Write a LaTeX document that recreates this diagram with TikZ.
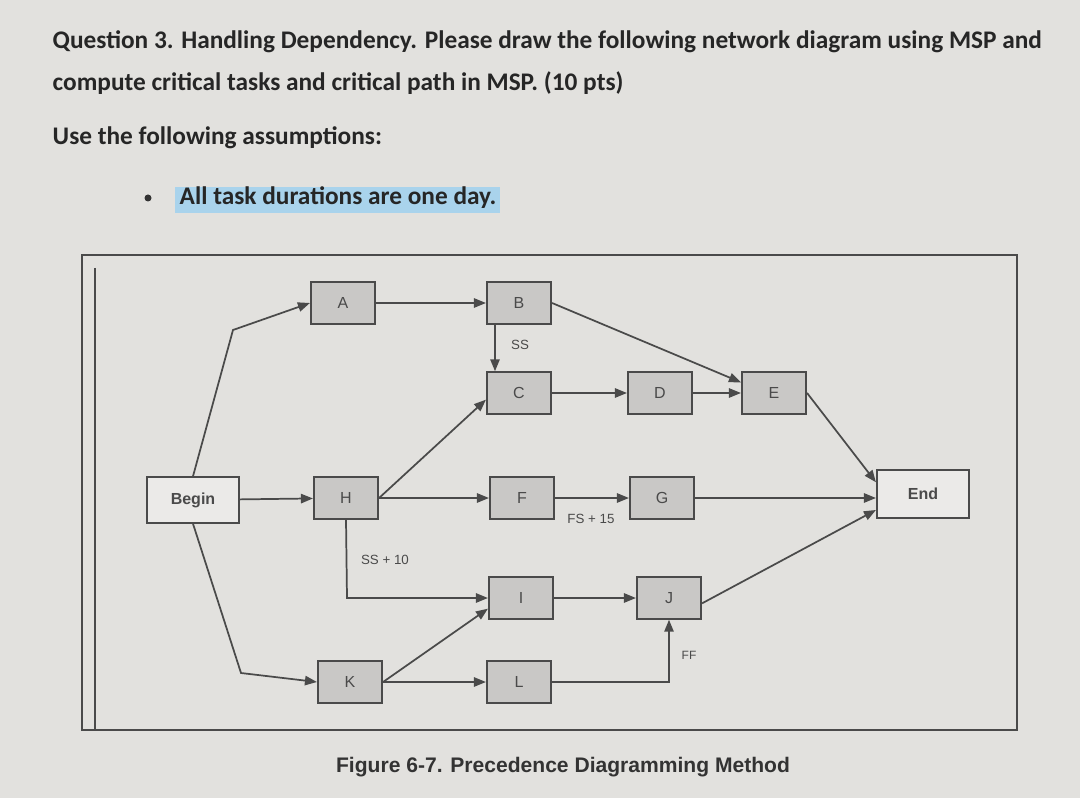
\documentclass[tikz,border=0pt]{standalone}
\usepackage{fontspec}
\setmainfont{Liberation Sans}
\newfontfamily\carfont{Carlito}
\usetikzlibrary{arrows.meta}
\definecolor{paper}{HTML}{E2E1DE}
\definecolor{boxg}{HTML}{C9C8C6}
\definecolor{ink}{HTML}{4A4A4A}
\definecolor{hl}{HTML}{A9D3EC}
\begin{document}
\begin{tikzpicture}[x=0.75pt,y=-0.75pt,
  task/.style={draw=ink,line width=1.6pt,fill=boxg,font=\fontsize{12}{14}\selectfont\color{ink},inner sep=0pt},
  term/.style={draw=ink,line width=1.6pt,fill=paper!70!white,font=\bfseries\fontsize{12}{14}\selectfont\color{ink},inner sep=0pt},
  con/.style={draw=ink,line width=1.3pt,-{Triangle[length=9pt,width=7pt]}},
  lab/.style={font=\fontsize{10}{12}\selectfont\color{ink}},
  head/.style={anchor=west,font=\carfont\bfseries\fontsize{19}{22}\selectfont,text=black!85}]
\fill[paper] (0,0) rectangle (1080,798);
\useasboundingbox (0,0) rectangle (1080,798);
% heading
\node[head] (q1) at (48,42) {Question 3. Handling Dependency. Please draw the following network diagram using MSP and};
\node[head] (q2) at (48,83) {compute critical tasks and critical path in MSP. (10 pts)};
\node[head] (q3) at (48,138) {Use the following assumptions:};
\fill[hl] (175,187) rectangle (500,213);
\fill[black!80] (148,198) circle (3.5);
\node[head] (q4) at (175,198) {All task durations are one day.};
% frame
\draw[ink,line width=1.2pt] (82,255) rectangle (1017,730);
\draw[ink,line width=1.2pt] (95,268) -- (95,730);
% boxes
\node[term,minimum width=69pt,minimum height=34pt] (begin) at (193,500) {Begin};
\node[term,minimum width=69pt,minimum height=36pt] (end) at (923,494) {End};
\tikzset{tb/.style={task,minimum width=48pt,minimum height=31pt}}
\node[tb] (A) at (343,303) {A};
\node[tb] (B) at (519,303) {B};
\node[tb] (C) at (519,393) {C};
\node[tb] (D) at (660,393) {D};
\node[tb] (E) at (774,393) {E};
\node[tb] (H) at (346,498) {H};
\node[tb] (F) at (522,498) {F};
\node[tb] (G) at (662,498) {G};
\node[tb] (I) at (521,598) {I};
\node[tb] (J) at (669,598) {J};
\node[tb] (K) at (350,682) {K};
\node[tb] (L) at (519,682) {L};
% connectors
\draw[con] (begin.north) -- (233,330) -- (A.west);
\draw[con] (begin.south) -- (241,673) -- (K.west);
\draw[con] (begin) -- (H);
\draw[con] (A) -- (B);
\draw[con] ([xshift=-18pt]B.south) -- ([xshift=-18pt]C.north);
\draw[con] (B.east) -- ([yshift=8pt]E.west);
\draw[con] (C) -- (D);
\draw[con] (D) -- (E);
\draw[con] (E.east) -- ([yshift=-10pt]end.north west);
\draw[con] (H.east) -- ([yshift=-5pt]C.west);
\draw[con] (H) -- (F);
\draw[con] (H.south) -- (347,598) -- (I.west);
\draw[con] (F) -- (G);
\draw[con] (G) -- (end.west |- G.east);
\draw[con] (I) -- (J);
\draw[con] ([yshift=-4pt]J.east) -- ([yshift=-12pt]end.west);
\draw[con] (K.east) -- ([yshift=-8pt]I.west);
\draw[con] (K) -- (L);
\draw[con] (L.east) -- (669,682) -- (J.south);
% labels
\node[lab] (ss) at (520,345) {SS};
\node[lab] (ss10) at (385,560) {SS + 10};
\node[lab] (fs15) at (591,519) {FS + 15};
\node[lab,font=\fontsize{9}{10}\selectfont\color{ink}] (ff) at (689,655) {FF};
\node[font=\bfseries\fontsize{15.8}{18}\selectfont,text=black!80] (cap) at (563,767) {Figure 6-7. Precedence Diagramming Method};
\end{tikzpicture}
\end{document}
